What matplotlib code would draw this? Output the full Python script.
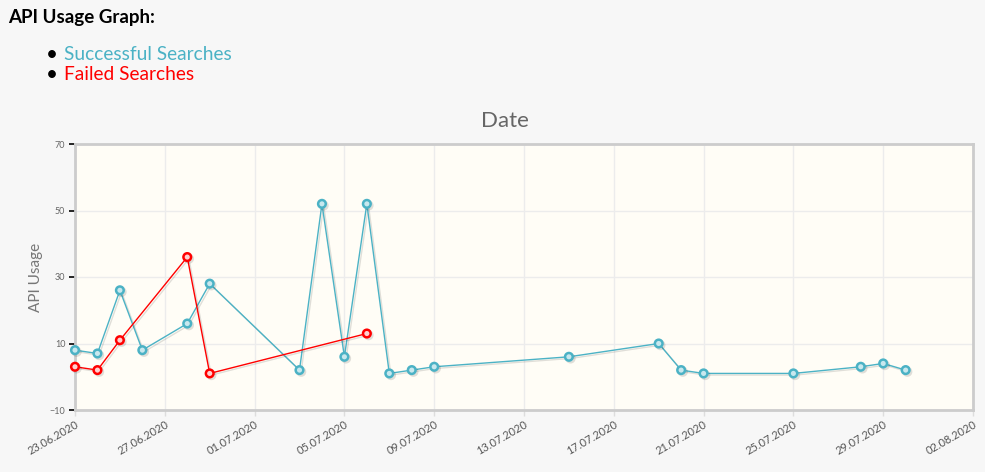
import matplotlib.pyplot as plt
import matplotlib.dates as mdates
import matplotlib.patheffects as pe
import pandas as pd

plt.rcParams['font.family'] = ['Lato', 'DejaVu Sans']

ok_dates = ["23.06.2020", "24.06.2020", "25.06.2020", "26.06.2020", "28.06.2020",
            "29.06.2020", "03.07.2020", "04.07.2020", "05.07.2020", "06.07.2020",
            "07.07.2020", "08.07.2020", "09.07.2020", "15.07.2020", "19.07.2020",
            "20.07.2020", "21.07.2020", "25.07.2020", "28.07.2020", "29.07.2020",
            "30.07.2020"]
ok_values = [8, 7, 26, 8, 16, 28, 2, 52, 6, 52, 1, 2, 3, 6, 10, 2, 1, 1, 3, 4, 2]

fail_dates = ["23.06.2020", "24.06.2020", "25.06.2020", "28.06.2020",
              "29.06.2020", "06.07.2020"]
fail_values = [3, 2, 11, 36, 1, 13]

y_ticks = [-10, 10, 30, 50, 70]

ok_x = pd.to_datetime(ok_dates, format="%d.%m.%Y")
fail_x = pd.to_datetime(fail_dates, format="%d.%m.%Y")

fig = plt.figure(figsize=(9.85, 4.72), dpi=100, facecolor='#f7f7f7')
ax = fig.add_axes([75 / 985, 1 - 410 / 472, 898 / 985, 266 / 472])
ax.set_facecolor('#fffdf6')

shadow = [pe.SimpleLineShadow(offset=(1.2, -1.2), shadow_color='k', alpha=0.12), pe.Normal()]

ax.plot(ok_x, ok_values, color='#4bb2c5', lw=1, marker='o', ms=5.5, mew=1.8,
        mfc='#c8e8ee', mec='#4bb2c5', path_effects=shadow, clip_on=False, zorder=3)
ax.plot(fail_x, fail_values, color='#ff0000', lw=1, marker='o', ms=5.5, mew=1.8,
        mfc='#ffd0d0', mec='#ff0000', path_effects=shadow, clip_on=False, zorder=4)

ax.set_xlim(pd.Timestamp("2020-06-23"), pd.Timestamp("2020-08-02"))
ax.set_ylim(-10, 70)
ax.set_yticks(y_ticks)
ax.set_xticks(pd.date_range("2020-06-23", "2020-08-02", freq="4D"))
ax.xaxis.set_major_formatter(mdates.DateFormatter("%d.%m.%Y"))

ax.grid(True, color='#ececec', lw=1)
ax.set_axisbelow(True)
for s in ax.spines.values():
    s.set_color('#cccccc')
    s.set_linewidth(2)

ax.tick_params(axis='y', length=4, width=1.2, color='black', labelsize=6.5,
               labelcolor='#666666', pad=3)
ax.tick_params(axis='x', length=4, width=1, color='#dddddd', labelsize=8,
               labelcolor='#555555', pad=2)
for lbl in ax.get_xticklabels():
    lbl.set_rotation(30)
    lbl.set_ha('right')
    lbl.set_rotation_mode('anchor')

fig.text(505 / 985, 1 - 121 / 472, "Date", fontsize=16, color='#666666',
         va='center', ha='center')
ax.set_ylabel("API Usage", fontsize=11, color='#777777', labelpad=5)

fig.text(8 / 985, 1 - 18 / 472, "API Usage Graph:", fontsize=13.5, fontweight='bold',
         color='black', va='center', ha='left')
fig.text(46 / 985, 1 - 55 / 472, "\u2022", fontsize=15, color='black', va='center', ha='left')
fig.text(64 / 985, 1 - 55 / 472, "Successful Searches", fontsize=13.8, color='#4bb2c5',
         va='center', ha='left')
fig.text(46 / 985, 1 - 75 / 472, "\u2022", fontsize=15, color='black', va='center', ha='left')
fig.text(64 / 985, 1 - 75 / 472, "Failed Searches", fontsize=13.8, color='#ff0000',
         va='center', ha='left')

fig.savefig("out.png", dpi=100, facecolor=fig.get_facecolor())
